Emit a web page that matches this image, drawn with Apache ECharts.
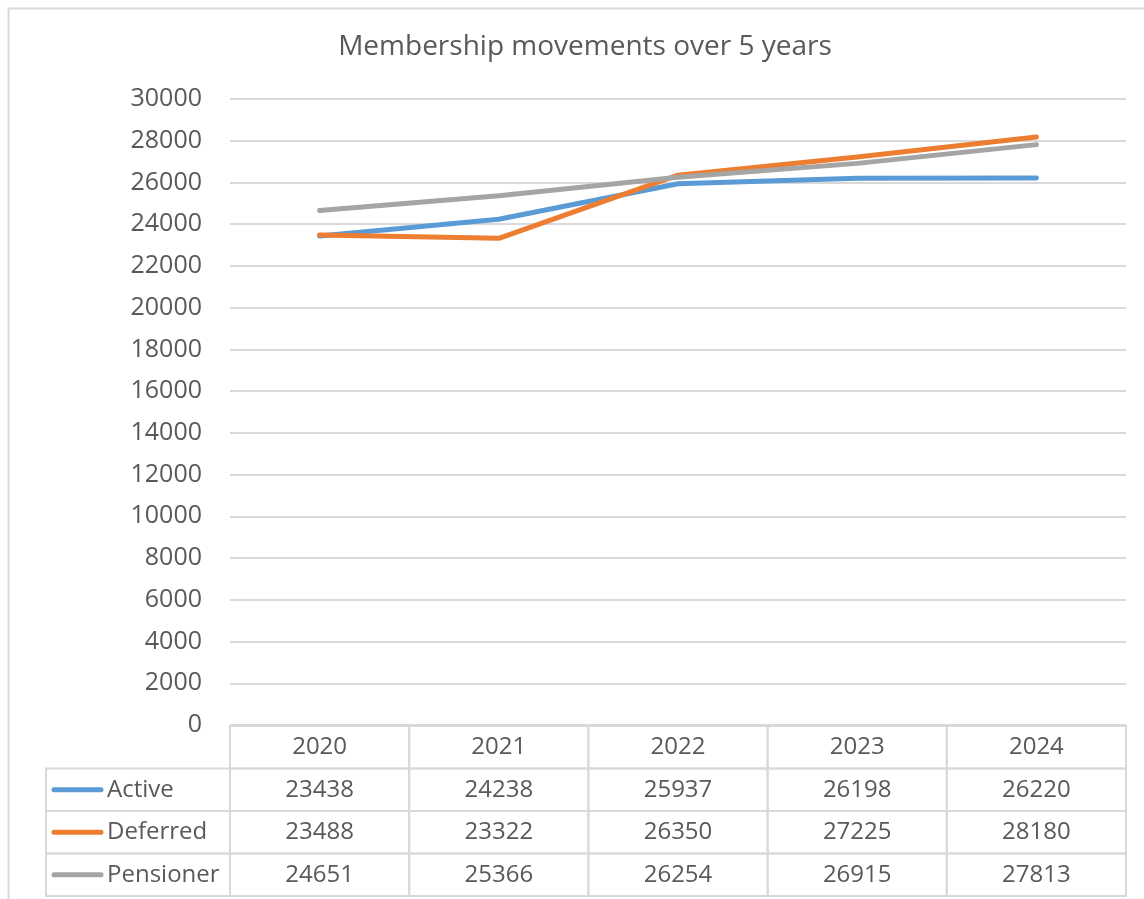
<!DOCTYPE html>
<html>
<head>
<meta charset="utf-8">
<script src="https://cdn.jsdelivr.net/npm/echarts@6/dist/echarts.min.js"></script>
<style>
  html, body { margin: 0; padding: 0; background: #fff; }
  #chart { width: 1144px; height: 899px; }
</style>
</head>
<body>
<div id="chart"></div>
<script>
var years = ["2020", "2021", "2022", "2023", "2024"];
var seriesNames = ["Active", "Deferred", "Pensioner"];
var active = [23438, 24238, 25937, 26198, 26220];
var deferred = [23488, 23322, 26350, 27225, 28180];
var pensioner = [24651, 25366, 26254, 26915, 27813];
var colors = ["#5B9BD5", "#ED7D31", "#A5A5A5"];

var allValues = [active, deferred, pensioner];
var FONT = '"Open Sans", sans-serif';
var TXT = "#595959";
var BORDER = "#d9d9d9";

// table cells: [col, row], row 0 = year header
var valueCells = [];
for (var r = 0; r < 4; r++) {
  for (var c = 0; c < years.length; c++) valueCells.push([c, r]);
}
var nameCells = [];
for (var k = 0; k < seriesNames.length; k++) nameCells.push([0, k + 1]);

function cellRect(api) {
  var p = api.coord([api.value(0), api.value(1)]);
  var s = api.size([1, 1]);
  return { cx: p[0], cy: p[1], x: p[0] - s[0] / 2, y: p[1] - s[1] / 2, w: s[0], h: s[1] };
}

function renderValueCell(params, api) {
  var b = cellRect(api);
  var col = api.value(0), row = api.value(1);
  var text = row === 0 ? years[col] : String(allValues[row - 1][col]);
  return {
    type: "group",
    children: [
      { type: "rect", shape: { x: b.x, y: b.y, width: b.w, height: b.h },
        style: { fill: "none", stroke: BORDER, lineWidth: 2 } },
      { type: "text", style: { text: text, x: b.cx, y: b.cy, align: "center", verticalAlign: "middle",
        font: "24px " + FONT, fill: TXT } }
    ]
  };
}

function renderNameCell(params, api) {
  var b = cellRect(api);
  var idx = api.value(1) - 1;
  return {
    type: "group",
    children: [
      { type: "rect", shape: { x: b.x, y: b.y, width: b.w, height: b.h },
        style: { fill: "none", stroke: BORDER, lineWidth: 2 } },
      { type: "line", shape: { x1: b.x + 8, y1: b.cy, x2: b.x + 55, y2: b.cy },
        style: { stroke: colors[idx], lineWidth: 5, lineCap: "round" } },
      { type: "text", style: { text: seriesNames[idx], x: b.x + 61, y: b.cy, align: "left", verticalAlign: "middle",
        font: "24px " + FONT, fill: TXT } }
    ]
  };
}

var chart = echarts.init(document.getElementById("chart"));
chart.setOption({
  animation: false,
  backgroundColor: "#fff",
  title: {
    text: "Membership movements over 5 years",
    left: 580,
    textAlign: "center",
    top: 28,
    textStyle: { fontFamily: FONT, fontSize: 28, fontWeight: "normal", color: TXT }
  },
  graphic: [
    { type: "rect", left: 6, top: 6, shape: { width: 1160, height: 920 },
      style: { fill: "none", stroke: BORDER, lineWidth: 2 }, silent: true }
  ],
  grid: [
    { left: 230, right: 18, top: 99, bottom: 174 },
    { left: 230, right: 18, top: 726, bottom: 3 },
    { left: 46, right: 914, top: 726, bottom: 3 }
  ],
  xAxis: [
    { gridIndex: 0, type: "category", data: years, boundaryGap: true,
      axisLine: { show: false }, axisTick: { show: false }, axisLabel: { show: false } },
    { gridIndex: 1, type: "category", data: years, show: false },
    { gridIndex: 2, type: "category", data: ["name"], show: false }
  ],
  yAxis: [
    { gridIndex: 0, type: "value", min: 0, max: 30000, interval: 2000,
      axisLine: { show: false }, axisTick: { show: false },
      axisLabel: { margin: 28, fontFamily: FONT, fontSize: 25, color: TXT,
        formatter: function (v) { return String(v); } },
      splitLine: { lineStyle: { color: BORDER, width: 2 } } },
    { gridIndex: 1, type: "category", data: ["year"].concat(seriesNames), inverse: true, show: false },
    { gridIndex: 2, type: "category", data: ["year"].concat(seriesNames), inverse: true, show: false }
  ],
  series: [
    { name: seriesNames[0], type: "line", data: active, symbol: "none",
      lineStyle: { color: colors[0], width: 5, cap: "round" } },
    { name: seriesNames[1], type: "line", data: deferred, symbol: "none",
      lineStyle: { color: colors[1], width: 5, cap: "round" } },
    { name: seriesNames[2], type: "line", data: pensioner, symbol: "none",
      lineStyle: { color: colors[2], width: 5, cap: "round" } },
    { type: "custom", xAxisIndex: 1, yAxisIndex: 1, data: valueCells, renderItem: renderValueCell, clip: false },
    { type: "custom", xAxisIndex: 2, yAxisIndex: 2, data: nameCells, renderItem: renderNameCell, clip: false }
  ]
});
</script>
</body>
</html>
